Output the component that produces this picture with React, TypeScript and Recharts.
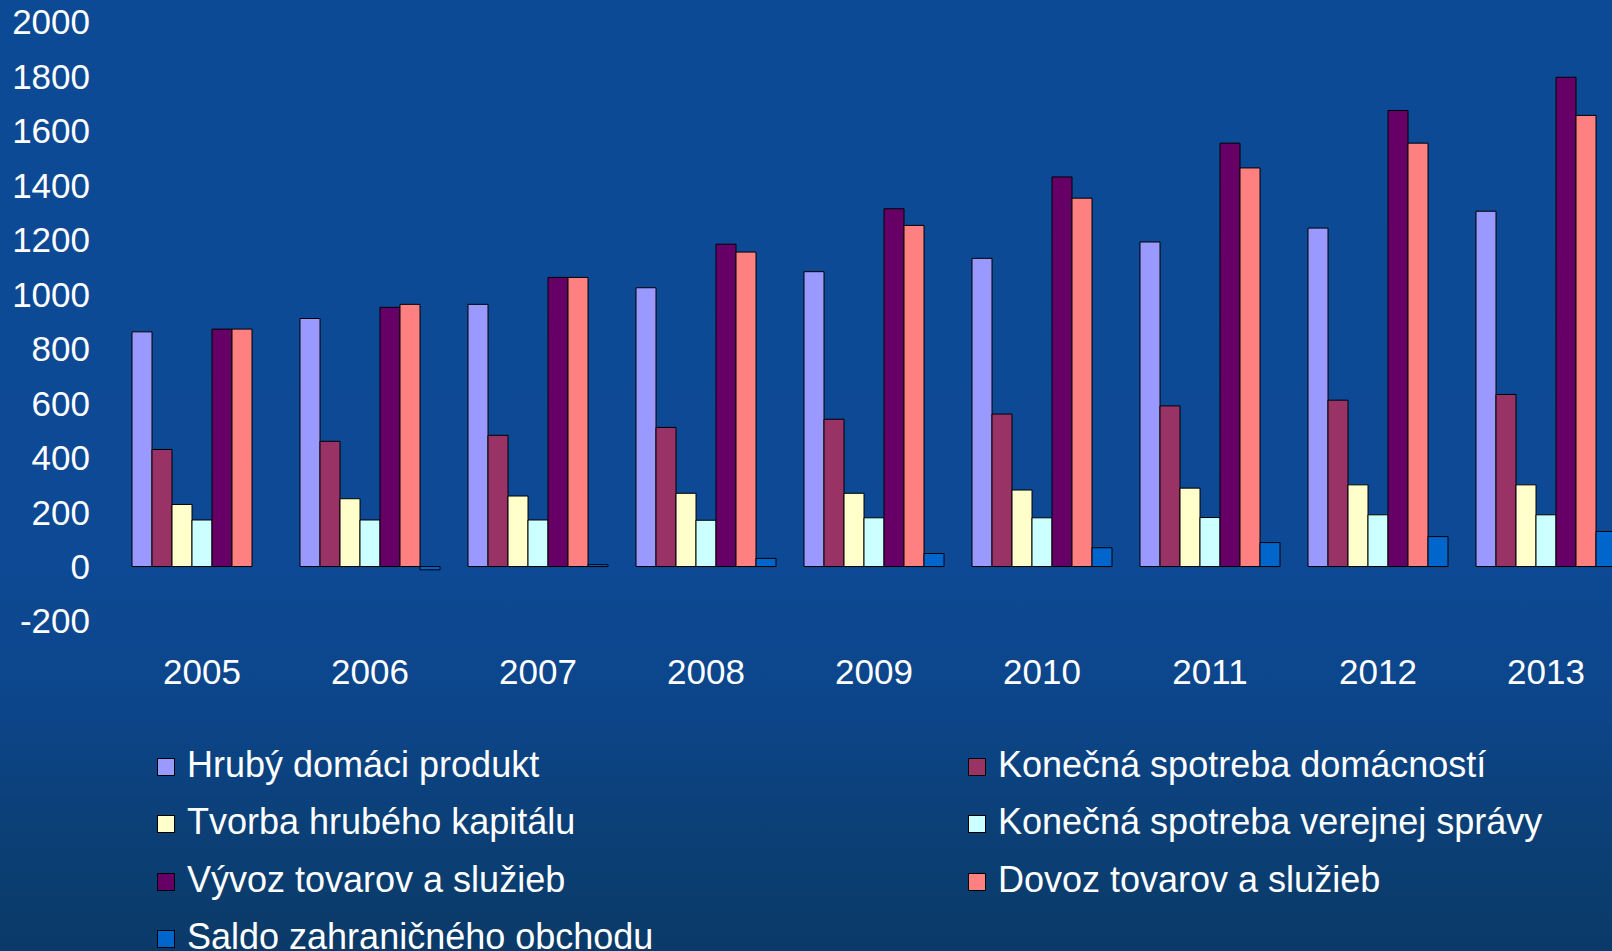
import React from 'react';
import { BarChart, Bar, XAxis, YAxis, Legend } from 'recharts';

const years = ['2005', '2006', '2007', '2008', '2009', '2010', '2011', '2012', '2013'];
const hdp = [862, 911, 963, 1024, 1083, 1132, 1192, 1243, 1305];
const spotrebaDomacnosti = [430, 460, 482, 511, 541, 560, 590, 611, 632];
const tvorbaKapitalu = [228, 249, 259, 269, 269, 281, 288, 300, 300];
const spotrebaSpravy = [171, 171, 171, 170, 179, 179, 180, 190, 190];
const vyvoz = [872, 952, 1062, 1184, 1314, 1431, 1555, 1675, 1797];
const dovoz = [872, 963, 1062, 1155, 1253, 1353, 1464, 1555, 1657];
const saldo = [0, -12, 7, 30, 48, 69, 88, 110, 129];
const yTicks = [-200, 0, 200, 400, 600, 800, 1000, 1200, 1400, 1600, 1800, 2000];

const series = [
  { key: 'hdp', name: 'Hrubý domáci produkt', color: '#9999FF', values: hdp },
  { key: 'dom', name: 'Konečná spotreba domácností', color: '#993366', values: spotrebaDomacnosti },
  { key: 'kap', name: 'Tvorba hrubého kapitálu', color: '#FFFFCC', values: tvorbaKapitalu },
  { key: 'spr', name: 'Konečná spotreba verejnej správy', color: '#CCFFFF', values: spotrebaSpravy },
  { key: 'vyv', name: 'Vývoz tovarov a služieb', color: '#660066', values: vyvoz },
  { key: 'dov', name: 'Dovoz tovarov a služieb', color: '#FF8080', values: dovoz },
  { key: 'sal', name: 'Saldo zahraničného obchodu', color: '#0066CC', values: saldo },
];

const data = years.map((y, i) => {
  const row: Record<string, string | number> = { year: y };
  series.forEach((s) => {
    row[s.key] = s.values[i];
  });
  return row;
});

const FONT = 'Arial, "Liberation Sans", Helvetica, sans-serif';

const renderLegend = (props: any) => {
  const payload = [...(props.payload || [])];
  const order = (p: any) => series.findIndex((s) => s.name === p.value);
  payload.sort((a: any, b: any) => order(a) - order(b));
  return (
    <div style={{ position: 'relative', width: 1612, height: 0 }}>
      {payload.map((p: any, i: number) => {
        const col = i % 2;
        const row = Math.floor(i / 2);
        const sqLeft = col === 0 ? 157 : 968;
        const cy = 765 + row * 57.3;
        return (
          <div
            key={p.value}
            style={{
              position: 'absolute',
              left: sqLeft,
              top: cy - 720 - 22,
              height: 44,
              display: 'flex',
              alignItems: 'center',
              whiteSpace: 'nowrap',
            }}
          >
            <span
              style={{
                display: 'inline-block',
                width: 18,
                height: 18,
                background: p.color,
                border: '1px solid #000',
                boxSizing: 'border-box',
                marginRight: 12,
                marginTop: 4,
              }}
            />
            <span style={{ color: '#fff', fontSize: 36, fontFamily: FONT, lineHeight: '44px' }}>{p.value}</span>
          </div>
        );
      })}
    </div>
  );
};

export default function App() {
  return (
    <div
      style={{
        position: 'absolute',
        left: 0,
        top: 0,
        width: 1612,
        height: 951,
        overflow: 'hidden',
        background: 'linear-gradient(180deg, #0d4a95 0%, #0d4994 60%, #0c4589 75%, #0b3f75 88%, #0a3a68 100%)',
        fontFamily: FONT,
      }}
    >
      <BarChart
        width={1640}
        height={951}
        data={data}
        margin={{ top: 22, right: 10, bottom: 0, left: 0 }}
        barCategoryGap={14}
        barGap={0}
      >
        <XAxis
          dataKey="year"
          axisLine={false}
          tickLine={false}
          tickSize={0}
          tickMargin={38}
          height={330}
          interval={0}
          tick={{ fill: '#ffffff', fontSize: 35, fontFamily: FONT }}
        />
        <YAxis
          domain={[-200, 2000]}
          ticks={yTicks}
          interval={0}
          axisLine={false}
          tickLine={false}
          tickSize={0}
          tickMargin={28}
          width={118}
          tick={{ fill: '#ffffff', fontSize: 35, fontFamily: FONT }}
        />
        <Legend
          verticalAlign="bottom"
          content={renderLegend}
          wrapperStyle={{ position: 'absolute', left: 0, top: 720, width: 1612, height: 0, overflow: 'visible' }}
        />
        {series.map((s) => (
          <Bar
            key={s.key}
            dataKey={s.key}
            name={s.name}
            fill={s.color}
            stroke="#000000"
            strokeWidth={1}
            isAnimationActive={false}
          />
        ))}
      </BarChart>
    </div>
  );
}
